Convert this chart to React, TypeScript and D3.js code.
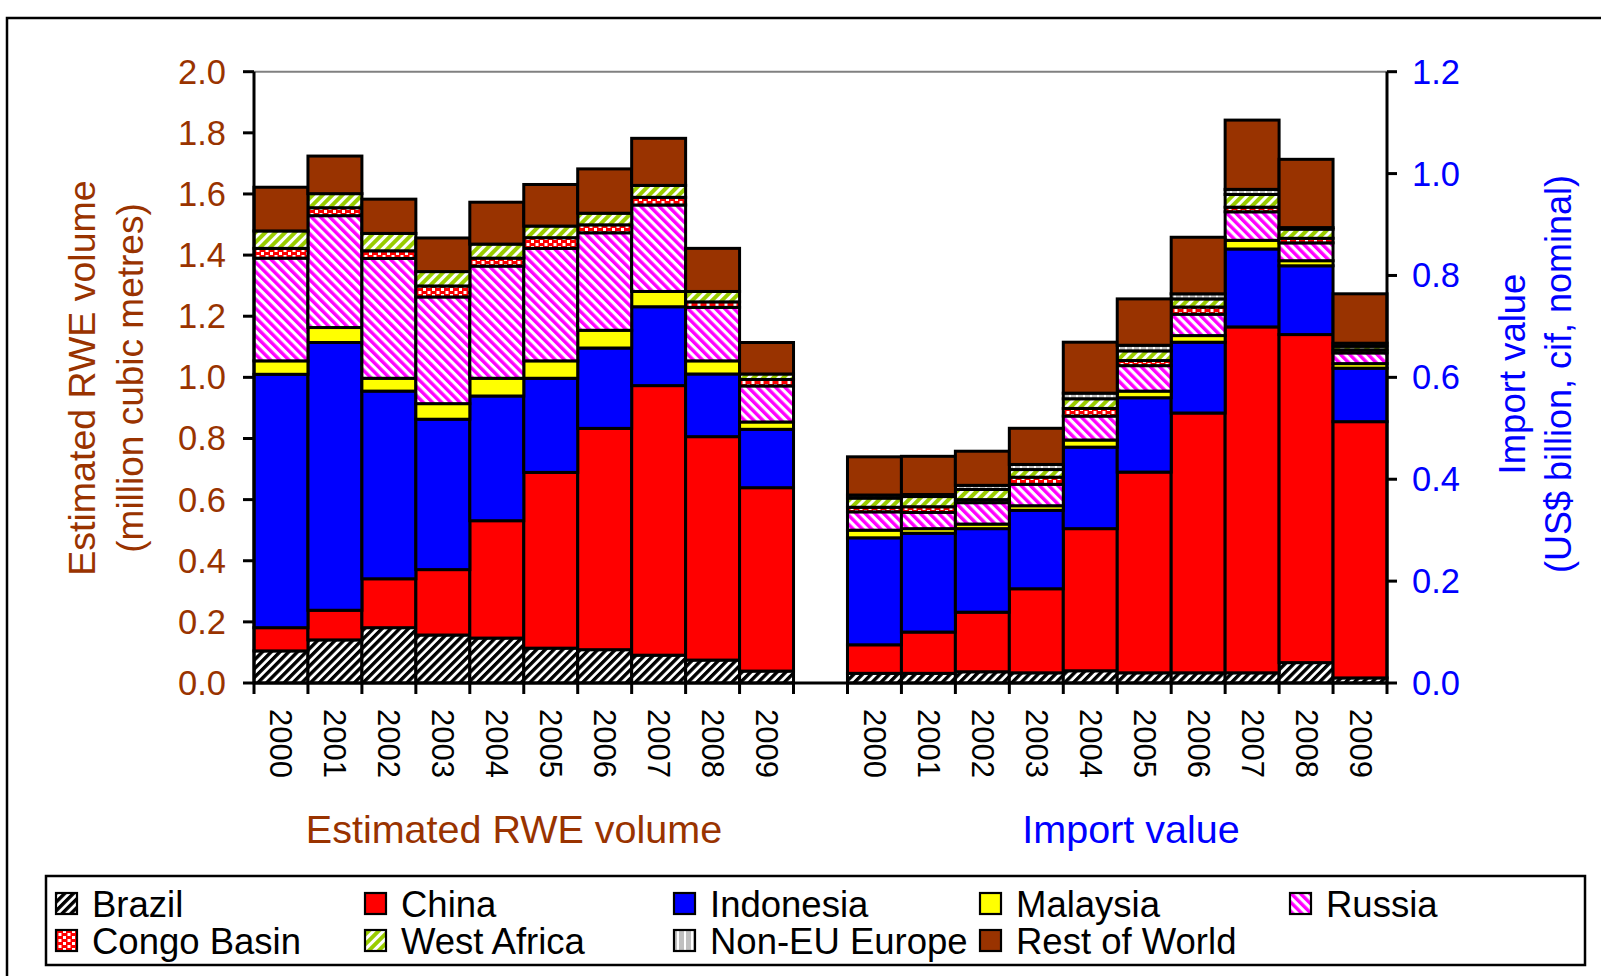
import React from 'react';
import * as d3 from 'd3';

const years = ['2000', '2001', '2002', '2003', '2004', '2005', '2006', '2007', '2008', '2009'];
const seriesNames = ['Brazil', 'China', 'Indonesia', 'Malaysia', 'Russia', 'Congo Basin', 'West Africa', 'Non-EU Europe', 'Rest of World'];

// estimated RWE volume, million m3 (left axis)
const brazilVolume = [0.105, 0.141, 0.181, 0.157, 0.147, 0.114, 0.109, 0.091, 0.075, 0.039];
const chinaVolume = [0.076, 0.097, 0.160, 0.214, 0.384, 0.575, 0.724, 0.882, 0.731, 0.600];
const indonesiaVolume = [0.829, 0.876, 0.614, 0.492, 0.408, 0.308, 0.263, 0.258, 0.205, 0.191];
const malaysiaVolume = [0.044, 0.049, 0.042, 0.051, 0.058, 0.057, 0.058, 0.050, 0.043, 0.024];
const russiaVolume = [0.336, 0.366, 0.392, 0.349, 0.367, 0.368, 0.319, 0.283, 0.175, 0.118];
const congoVolume = [0.032, 0.026, 0.025, 0.036, 0.026, 0.035, 0.026, 0.025, 0.018, 0.021];
const westAfricaVolume = [0.057, 0.046, 0.057, 0.047, 0.046, 0.038, 0.038, 0.039, 0.034, 0.018];
const nonEuVolume = [0, 0, 0, 0, 0, 0, 0, 0, 0, 0];
const restVolume = [0.143, 0.123, 0.112, 0.110, 0.137, 0.136, 0.145, 0.154, 0.141, 0.103];

// import value, US$ billion (right axis)
const brazilValue = [0.019, 0.019, 0.022, 0.020, 0.024, 0.020, 0.020, 0.020, 0.040, 0.010];
const chinaValue = [0.056, 0.081, 0.117, 0.165, 0.279, 0.394, 0.510, 0.679, 0.644, 0.503];
const indonesiaValue = [0.210, 0.194, 0.164, 0.154, 0.160, 0.146, 0.139, 0.153, 0.135, 0.105];
const malaysiaValue = [0.015, 0.009, 0.009, 0.009, 0.014, 0.013, 0.013, 0.017, 0.010, 0.009];
const russiaValue = [0.036, 0.032, 0.042, 0.042, 0.047, 0.050, 0.042, 0.056, 0.035, 0.021];
const congoValue = [0.009, 0.011, 0.006, 0.014, 0.015, 0.010, 0.014, 0.009, 0.009, 0.006];
const westAfricaValue = [0.018, 0.020, 0.020, 0.015, 0.019, 0.019, 0.016, 0.025, 0.018, 0.007];
const nonEuValue = [0.006, 0.004, 0.008, 0.010, 0.011, 0.011, 0.010, 0.010, 0.003, 0.006];
const restValue = [0.075, 0.075, 0.067, 0.071, 0.100, 0.091, 0.111, 0.136, 0.134, 0.097];

const volumeTicks = [0, 0.2, 0.4, 0.6, 0.8, 1.0, 1.2, 1.4, 1.6, 1.8, 2.0];
const valueTicks = [0, 0.2, 0.4, 0.6, 0.8, 1.0, 1.2];

const volumeSeries = [brazilVolume, chinaVolume, indonesiaVolume, malaysiaVolume, russiaVolume, congoVolume, westAfricaVolume, nonEuVolume, restVolume];
const valueSeries = [brazilValue, chinaValue, indonesiaValue, malaysiaValue, russiaValue, congoValue, westAfricaValue, nonEuValue, restValue];

const fills = ['url(#pBrazil)', '#ff0000', '#0000ff', '#ffff00', 'url(#pRussia)', 'url(#pCongo)', 'url(#pWest)', 'url(#pNonEu)', '#993300'];

const FONT = '"Liberation Sans", Arial, sans-serif';
const BROWN = '#993300';
const BLUE = '#0000ff';
const SW = 3;

const margin = { left: 254, right: 1387, top: 71.7, bottom: 683 };

function makeRows(series: number[][]) {
  return years.map((yr, i) => {
    const row: any = { year: yr };
    seriesNames.forEach((s, k) => (row[s] = series[k][i]));
    return row;
  });
}

export default function App() {
  const keys = [...years.map((y) => 'v' + y), 'gap', ...years.map((y) => 'i' + y)];
  const x = d3.scaleBand().domain(keys).range([margin.left, margin.right]).padding(0);
  const yL = d3.scaleLinear().domain([0, 2]).range([margin.bottom, margin.top]);
  const yR = d3.scaleLinear().domain([0, 1.2]).range([margin.bottom, margin.top]);

  const stack = d3.stack<any>().keys(seriesNames);
  const volStack = stack(makeRows(volumeSeries));
  const valStack = stack(makeRows(valueSeries));

  const boundaries = keys.map((k) => x(k) as number).concat([margin.right]);

  const legendCols = [56, 365, 674, 980, 1290];
  const legendItems = seriesNames.map((name, i) => ({
    name,
    fill: fills[i],
    col: i < 5 ? i : i - 5,
    row: i < 5 ? 0 : 1,
  }));

  return (
    <svg width={1601} height={976} style={{ position: 'absolute', left: 0, top: 0 }} fontFamily={FONT}>
      <defs>
        <pattern id="pBrazil" patternUnits="userSpaceOnUse" width={6.2} height={6.2} patternTransform="rotate(45)">
          <rect width={6.2} height={6.2} fill="#fff" />
          <rect width={3.4} height={6.2} fill="#000" />
        </pattern>
        <pattern id="pRussia" patternUnits="userSpaceOnUse" width={6.5} height={6.5} patternTransform="rotate(-45)">
          <rect width={6.5} height={6.5} fill="#fff" />
          <rect width={3.4} height={6.5} fill="#ff00ff" />
        </pattern>
        <pattern id="pWest" patternUnits="userSpaceOnUse" width={7} height={7} patternTransform="rotate(45)">
          <rect width={7} height={7} fill="#fff" />
          <rect width={4} height={7} fill="#99cc00" />
        </pattern>
        <pattern id="pCongo" patternUnits="userSpaceOnUse" width={9} height={6}>
          <rect width={9} height={6} fill="#ff0000" />
          <rect x={0} y={0} width={3} height={3} fill="#fff" />
          <rect x={4.5} y={3} width={3} height={3} fill="#fff" />
        </pattern>
        <pattern id="pNonEu" patternUnits="userSpaceOnUse" width={7} height={7}>
          <rect width={7} height={7} fill="#c0c0c0" />
          <rect x={5} width={2} height={7} fill="#fff" />
        </pattern>
      </defs>

      {/* outer frame */}
      <rect x={7} y={18} width={1600} height={970} fill="none" stroke="#000" strokeWidth={2.5} />

      {/* top gridline */}
      <line x1={margin.left} x2={margin.right} y1={margin.top} y2={margin.top} stroke="#808080" strokeWidth={2} />

      {/* volume bars */}
      <g>
        {volStack.map((layer, k) => (
          <g key={'v' + k} fill={fills[k]}>
            {layer.map((d, i) =>
              d[1] - d[0] > 0 ? (
                <rect
                  key={i}
                  x={x('v' + years[i])}
                  width={x.bandwidth()}
                  y={yL(d[1])}
                  height={yL(d[0]) - yL(d[1])}
                  stroke="#000"
                  strokeWidth={SW}
                />
              ) : null
            )}
          </g>
        ))}
      </g>

      {/* value bars */}
      <g>
        {valStack.map((layer, k) => (
          <g key={'i' + k} fill={fills[k]}>
            {layer.map((d, i) =>
              d[1] - d[0] > 0 ? (
                <rect
                  key={i}
                  x={x('i' + years[i])}
                  width={x.bandwidth()}
                  y={yR(d[1])}
                  height={yR(d[0]) - yR(d[1])}
                  stroke="#000"
                  strokeWidth={SW}
                />
              ) : null
            )}
          </g>
        ))}
      </g>

      {/* axes */}
      <line x1={margin.left} x2={margin.left} y1={margin.top} y2={margin.bottom} stroke="#000" strokeWidth={SW} />
      <line x1={margin.right} x2={margin.right} y1={margin.top} y2={margin.bottom} stroke="#000" strokeWidth={SW} />
      <line x1={margin.left} x2={margin.right} y1={margin.bottom} y2={margin.bottom} stroke="#000" strokeWidth={SW} />

      {volumeTicks.map((t) => (
        <g key={'lt' + t}>
          <line x1={margin.left - 11} x2={margin.left} y1={yL(t)} y2={yL(t)} stroke="#000" strokeWidth={SW} />
          <text x={226} y={yL(t)} textAnchor="end" dominantBaseline="central" fontSize={34.5} fill={BROWN}>
            {d3.format('.1f')(t)}
          </text>
        </g>
      ))}
      {valueTicks.map((t) => (
        <g key={'rt' + t}>
          <line x1={margin.right} x2={margin.right + 10} y1={yR(t)} y2={yR(t)} stroke="#000" strokeWidth={SW} />
          <text x={1412} y={yR(t)} textAnchor="start" dominantBaseline="central" fontSize={34.5} fill={BLUE}>
            {d3.format('.1f')(t)}
          </text>
        </g>
      ))}
      {boundaries.map((b, i) => (
        <line key={'xt' + i} x1={b} x2={b} y1={margin.bottom} y2={margin.bottom + 11} stroke="#000" strokeWidth={SW} />
      ))}

      {/* year labels */}
      {keys
        .filter((k) => k !== 'gap')
        .map((k) => {
          const cx = (x(k) as number) + x.bandwidth() / 2;
          return (
            <text
              key={'yl' + k}
              transform={`translate(${cx},709) rotate(90)`}
              dominantBaseline="central"
              fontSize={31}
              fill="#000"
            >
              {k.slice(1)}
            </text>
          );
        })}

      {/* group labels */}
      <text x={514} y={843} textAnchor="middle" fontSize={39.5} fill={BROWN}>
        Estimated RWE volume
      </text>
      <text x={1131} y={843} textAnchor="middle" fontSize={39.5} fill={BLUE}>
        Import value
      </text>

      {/* axis titles */}
      <text transform="translate(82,378) rotate(-90)" textAnchor="middle" dominantBaseline="central" fontSize={37.5} fill={BROWN}>
        Estimated RWE volume
      </text>
      <text transform="translate(130,378) rotate(-90)" textAnchor="middle" dominantBaseline="central" fontSize={37} fill={BROWN}>
        (million cubic metres)
      </text>
      <text transform="translate(1512,374) rotate(-90)" textAnchor="middle" dominantBaseline="central" fontSize={36.5} fill={BLUE}>
        Import value
      </text>
      <text transform="translate(1558,374) rotate(-90)" textAnchor="middle" dominantBaseline="central" fontSize={36} fill={BLUE}>
        (US$ billion, cif, nominal)
      </text>

      {/* legend */}
      <rect x={46} y={876} width={1539} height={89} fill="#fff" stroke="#000" strokeWidth={2.5} />
      {legendItems.map((it) => {
        const sx = legendCols[it.col];
        const sy = it.row === 0 ? 893 : 930;
        return (
          <g key={it.name}>
            <rect x={sx} y={sy} width={21} height={21} fill={it.fill} stroke="#000" strokeWidth={2.2} />
            <text x={sx + 36} y={sy + 11} dominantBaseline="central" fontSize={36.5} fill="#000">
              {it.name}
            </text>
          </g>
        );
      })}
    </svg>
  );
}
